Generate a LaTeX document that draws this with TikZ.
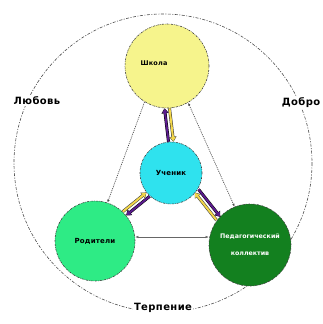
\documentclass[tikz,border=0pt]{standalone}
\usepackage{fontspec}
\setmainfont{DejaVu Sans}
\newfontfamily\outerfont[LetterSpace=4]{DejaVu Sans}
\newfontfamily\innerfont[LetterSpace=3]{DejaVu Sans}
\usetikzlibrary{calc,arrows.meta}
\definecolor{schoolc}{HTML}{F6F48C}
\definecolor{pupilc}{HTML}{2FE2EE}
\definecolor{parentc}{HTML}{2EEB85}
\definecolor{teachc}{HTML}{13801F}
\definecolor{purp}{HTML}{5B1C8E}
\definecolor{yell}{HTML}{F2D64A}
\tikzset{
  ring/.style={circle,draw=black!75,line width=0.6pt,dash pattern=on 2pt off 1pt on 0.6pt off 1pt,inner sep=0pt,font=\innerfont\bfseries\fontsize{7}{8}\selectfont,align=center},
  outer/.style={draw=black!70,line width=0.6pt,dash pattern=on 3pt off 1.5pt on 1pt off 1.5pt},
  lbl/.style={fill=white,inner sep=1pt,font=\outerfont\bfseries\fontsize{10}{11}\selectfont},
  dotarr/.style={draw=black!70,line width=0.7pt,dash pattern=on 1pt off 1pt,-{Latex[length=3pt,width=2.5pt]}},
  thinarr/.style={draw=black!60,line width=0.5pt,{Latex[length=3pt,width=2.5pt]}-{Latex[length=3pt,width=2.5pt]}},
  parr/.style={draw=black,line width=3pt,-{Triangle[length=5pt,width=7pt]},postaction={draw=purp,line width=2pt,-{Triangle[length=4pt,width=5.5pt]},shorten >=0.6pt}},
  yarr/.style={draw=black!80,line width=3pt,-{Triangle[length=5pt,width=7pt]},postaction={draw=yell,line width=2pt,-{Triangle[length=4pt,width=5.5pt]},shorten >=0.6pt}},
}
\begin{document}
\begin{tikzpicture}[x=1pt,y=-1pt]
\useasboundingbox (0,0) rectangle (323,324);
\coordinate (oc) at (163,163);
\draw[outer] (oc) circle[radius=149];
\node[lbl] (love) at (37,101) {Любовь};
\node[lbl] (good) at (301,103) {Добро};
\node[lbl] (pat) at (163,308) {Терпение};
\node[ring,fill=schoolc,minimum size=84pt] (s) at (167,66) {};
\node[font=\innerfont\bfseries\fontsize{6.5}{8}\selectfont] (st) at (154,63) {Школа};
\node[ring,fill=pupilc,minimum size=62pt] (u) at (171,173) {Ученик};
\node[ring,fill=parentc,minimum size=80pt] (r) at (95,241) {Родители};
\node[ring,fill=teachc,minimum size=82pt,text=white,font=\bfseries\fontsize{6.3}{7}\selectfont] (t) at (250,245) {Педагогический\\[10pt]коллектив};
% dotted triangle
\draw[dotarr] (s.238) -- (r.72);
\draw[dotarr,{Latex[length=3pt,width=2.5pt]}-{Latex[length=3pt,width=2.5pt]}] (s.-60) -- (t.112);
\draw[thinarr] (r.east |- 0,237) -- (t.west |- 0,237);
% thick double arrows
\draw[parr] ([xshift=-2.5pt]u.north) -- ([xshift=-2.5pt]s.south);
\draw[yarr] ([xshift=2.5pt]s.south) -- ([xshift=2.5pt]u.north);
\coordinate (ua) at (u.223); \coordinate (ra) at (r.43);
\draw[parr] ($(ua)!2.5pt!90:(ra)$) -- ($(ra)!2.5pt!-90:(ua)$);
\draw[yarr] ($(ra)!2.5pt!90:(ua)$) -- ($(ua)!2.5pt!-90:(ra)$);
\coordinate (ub) at (u.-35); \coordinate (tb) at (t.140);
\draw[parr] ($(ub)!2.5pt!90:(tb)$) -- ($(tb)!2.5pt!-90:(ub)$);
\draw[yarr] ($(tb)!2.5pt!90:(ub)$) -- ($(ub)!2.5pt!-90:(tb)$);
\end{tikzpicture}
\end{document}
